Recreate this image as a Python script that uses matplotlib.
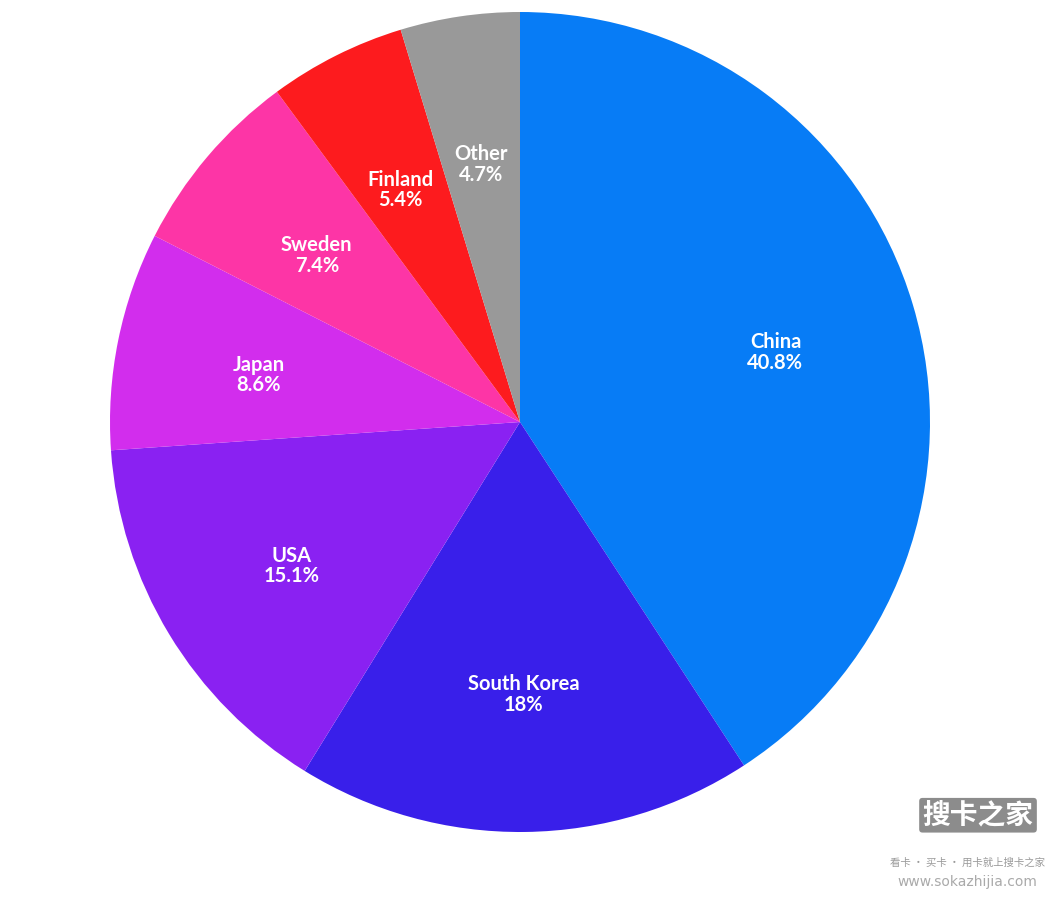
import matplotlib
matplotlib.use("Agg")
import matplotlib.pyplot as plt
import numpy as np

countries = ["China", "South Korea", "USA", "Japan", "Sweden", "Finland", "Other"]
shares = [40.8, 18, 15.1, 8.6, 7.4, 5.4, 4.7]
share_labels = ["40.8%", "18%", "15.1%", "8.6%", "7.4%", "5.4%", "4.7%"]
colors = ["#077cf6", "#391fea", "#8a21f2", "#d22ded", "#fd35a6", "#fd1b1e", "#999999"]

W, H = 1046, 916
cx, cy, r = 520, 422, 410

fig = plt.figure(figsize=(W / 100, H / 100), dpi=100)
ax = fig.add_axes([(cx - r) / W, (H - cy - r) / H, 2 * r / W, 2 * r / H])

wedges, _ = ax.pie(shares, colors=colors, startangle=90, counterclock=False,
                   radius=1.0, wedgeprops=dict(linewidth=0))

for w, name, lab in zip(wedges, countries, share_labels):
    ang = np.deg2rad((w.theta1 + w.theta2) / 2)
    x, y = 0.65 * np.cos(ang), 0.65 * np.sin(ang) - 0.015
    ax.text(x, y, f"{name}\n{lab}", ha="center", va="center", color="white",
            fontsize=14.5, fontweight="bold", family="Lato", linespacing=1.05)

ax.set_xlim(-1, 1)
ax.set_ylim(-1, 1)
ax.set_aspect("equal")
ax.axis("off")

# watermark
fig.text(0.935, 0.11, "搜卡之家", ha="center", va="center", fontsize=20,
         color="white", fontweight="bold", family="Noto Sans CJK SC",
         bbox=dict(boxstyle="round,pad=0.12", fc="#8c8c8c", ec="none"))
fig.text(0.925, 0.058, "看卡 · 买卡 · 用卡就上搜卡之家", ha="center", va="center",
         fontsize=7.5, color="#9a9a9a", family="Noto Sans CJK SC")
fig.text(0.925, 0.037, "www.sokazhijia.com", ha="center", va="center",
         fontsize=10, color="#aaaaaa")

fig.savefig("out.png", dpi=100)
